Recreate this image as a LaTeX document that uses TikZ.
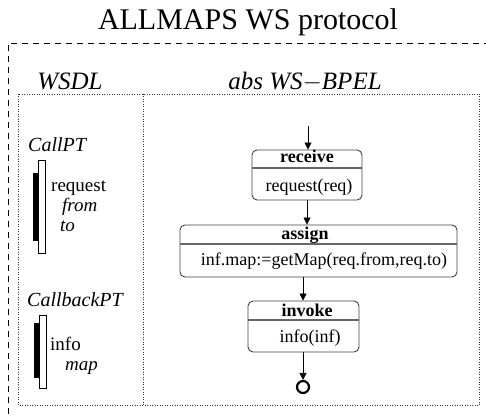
\documentclass[tikz,border=0pt]{standalone}
\usepackage{fontspec}
\setmainfont{Liberation Serif}
\usetikzlibrary{arrows.meta}
\begin{document}
\begin{tikzpicture}[x=1pt,y=-1pt,
  actbox/.style={draw=black!75, line width=0.9pt, rounded corners=5pt, inner sep=0pt},
  divider/.style={draw=black!60, line width=1.3pt},
  flow/.style={draw=black, line width=0.8pt, -{Triangle[length=7pt,width=7pt]}},
  txt/.style={inner sep=0pt, anchor=base, font=\fontsize{18}{20}\selectfont},
  hdr/.style={inner sep=0pt, anchor=base, font=\fontsize{18}{20}\selectfont\bfseries},
  lbl/.style={inner sep=0pt, anchor=base west, font=\fontsize{19}{21}\selectfont},
  ilbl/.style={inner sep=0pt, anchor=base west, font=\fontsize{19}{21}\selectfont\itshape},
  portname/.style={inner sep=0pt, anchor=base west, font=\fontsize{20}{22}\selectfont\itshape},
  whitebar/.style={draw=black, line width=0.8pt, fill=white},
  blackbar/.style={draw=black, line width=0.8pt, fill=black},
  frame/.style={draw=black, line width=0.8pt, dash pattern=on 6pt off 5pt},
  inner/.style={draw=black!80, line width=0.5pt, dash pattern=on 0.5pt off 2pt}
]
\useasboundingbox (0,0) rectangle (486,419);
% title
\node[inner sep=0pt, anchor=base, font=\fontsize{30}{32}\selectfont] (title) at (248,30) {ALLMAPS WS protocol};
% outer dashed frame (clipped at right and bottom)
\draw[frame] (8,425) -- (8,43) -- (490,43);
% inner dotted frames
\draw[inner] (18,94) rectangle (479,405);
\draw[inner] (143,94) -- (143,405);
% headers
\node[inner sep=0pt, anchor=base, font=\fontsize{25}{27}\selectfont\itshape] (wsdl) at (70,90) {WSDL};
\node[inner sep=0pt, anchor=base, font=\fontsize{25}{27}\selectfont\itshape] (bpel) at (305,90) {abs WS$-$BPEL};
% CallPT port
\node[portname] (callpt) at (28,152) {CallPT};
\draw[whitebar] (38,160) rectangle (45,253);
\draw[blackbar] (33,173) rectangle (38,240);
\node[lbl] (request) at (51,192) {request};
\node[ilbl] (from) at (62,212) {from};
\node[ilbl] (to) at (60,231) {to};
% CallbackPT port
\node[portname] (cbpt) at (27,306) {CallbackPT};
\draw[whitebar] (39,315) rectangle (46,388);
\draw[blackbar] (34,323) rectangle (39,377);
\node[lbl] (info) at (50,350) {info};
\node[ilbl] (map) at (65,370) {map};
% receive
\node[actbox, minimum width=110pt, minimum height=50pt] (recv) at (307,175) {};
\draw[divider] (recv.west |- 0,168) -- (recv.east |- 0,168);
\node[hdr] (recvh) at (307,163) {receive};
\node[txt] (recvt) at (309,192) {request(req)};
% assign
\node[actbox, minimum width=277pt, minimum height=52pt] (asg) at (318.5,251) {};
\draw[divider] (asg.west |- 0,244) -- (asg.east |- 0,244);
\node[hdr] (asgh) at (305,240) {assign};
\node[txt] (asgt) at (324,265) {inf.map:=getMap(req.from,req.to)};
% invoke
\node[actbox, minimum width=111pt, minimum height=51pt] (inv) at (303.5,326.5) {};
\draw[divider] (inv.west |- 0,320) -- (inv.east |- 0,320);
\node[hdr] (invh) at (307,316) {invoke};
\node[txt] (invt) at (310,342) {info(inf)};
% end circle
\node[draw=black, line width=2.2pt, circle, minimum size=12pt, inner sep=0pt] (fin) at (303,387) {};
% flow
\coordinate (start) at (308,126);
\draw[flow] (start) -- (start |- recv.north);
\draw[flow] (recv.south -| 307,0) -- (asg.north -| 307,0);
\draw[flow] (asg.south -| 303,0) -- (inv.north -| 303,0);
\draw[flow] (inv.south -| fin.north) -- (fin.north);
\end{tikzpicture}
\end{document}
